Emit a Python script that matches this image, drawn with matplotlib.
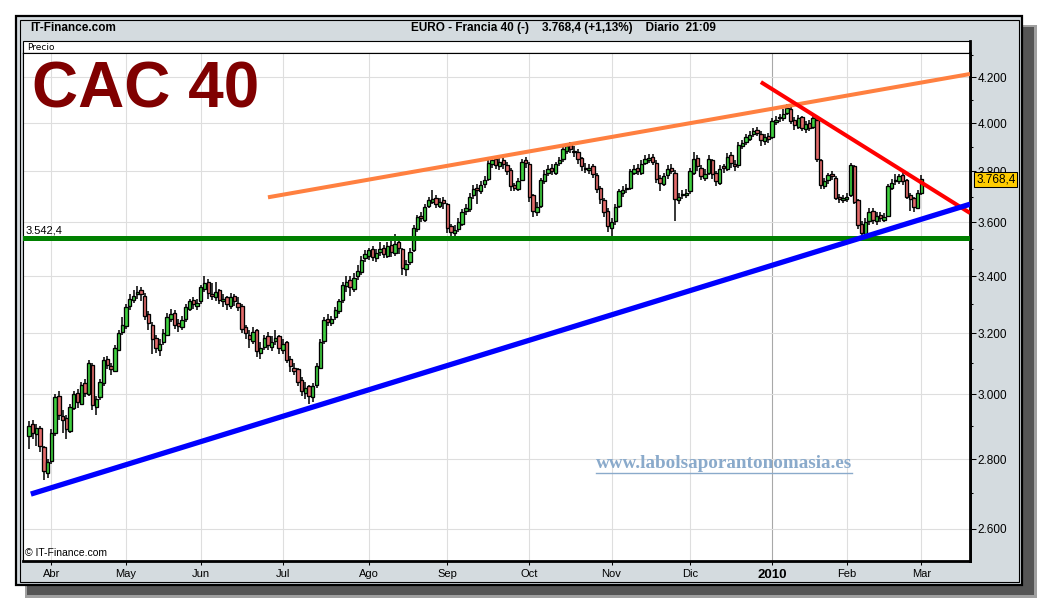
import matplotlib.pyplot as plt
import matplotlib.patches as mpatches
import matplotlib.lines as mlines
import matplotlib.transforms as mtransforms
from matplotlib.ticker import FixedLocator, FuncFormatter, NullFormatter
import numpy as np
import pandas as pd

plt.rcParams['font.family'] = ['Liberation Sans', 'DejaVu Sans']

# Calendario de negociacion (dias habiles sin festivos de Euronext)
start_date = '2009-03-24'
holidays = ['2009-04-10', '2009-04-13', '2009-05-01', '2009-12-25', '2010-01-01']
month_labels = ['Abr', 'May', 'Jun', 'Jul', 'Ago', 'Sep', 'Oct', 'Nov', 'Dic', '2010', 'Feb', 'Mar']

# Velas diarias CAC 40
opens = [
    2870, 2905, 2875, 2895, 2835, 2760, 2795, 2880, 2995, 2930,
    2925, 2885, 2955, 3005, 2970, 3035, 3000, 3095, 2960, 2990,
    3035, 3115, 3090, 3075, 3145, 3205, 3225, 3295, 3315, 3335,
    3350, 3330, 3265, 3230, 3185, 3145, 3170, 3195, 3250, 3270,
    3235, 3220, 3250, 3285, 3315, 3295, 3310, 3355, 3380, 3335,
    3325, 3350, 3310, 3325, 3295, 3330, 3305, 3295, 3220, 3195,
    3175, 3210, 3135, 3155, 3190, 3155, 3175, 3190, 3145, 3170,
    3115, 3085, 3080, 3045, 3005, 3025, 2990, 3030, 3085, 3175,
    3250, 3235, 3255, 3275, 3315, 3365, 3385, 3355, 3400, 3415,
    3465, 3475, 3500, 3465, 3490, 3505, 3475, 3515, 3485, 3525,
    3500, 3425, 3450, 3495, 3575, 3625, 3610, 3665, 3680, 3695,
    3665, 3685, 3670, 3585, 3560, 3575, 3595, 3645, 3650, 3705,
    3735, 3720, 3750, 3770, 3830, 3850, 3820, 3845, 3825, 3805,
    3745, 3730, 3765, 3845, 3830, 3705, 3640, 3665, 3760, 3795,
    3815, 3795, 3835, 3850, 3885, 3910, 3885, 3880, 3855, 3815,
    3805, 3820, 3785, 3735, 3685, 3645, 3580, 3605, 3665, 3715,
    3735, 3735, 3795, 3815, 3795, 3835, 3845, 3860, 3835, 3775,
    3750, 3785, 3815, 3795, 3685, 3705, 3705, 3720, 3795, 3855,
    3815, 3775, 3795, 3845, 3795, 3755, 3820, 3810, 3865, 3830,
    3825, 3905, 3920, 3935, 3955, 3970, 3955, 3925, 3945, 3940,
    4005, 4020, 4020, 4045, 4060, 4015, 3985, 4025, 3975, 4000,
    3985, 4015, 3845, 3740, 3765, 3790, 3775, 3700, 3685, 3690,
    3705, 3820, 3685, 3595, 3555, 3605, 3645, 3605, 3630, 3610,
    3625, 3735, 3760, 3760, 3785, 3765, 3705, 3695, 3655, 3715,
]
highs = [
    2915, 2920, 2905, 2900, 2840, 2800, 2890, 3000, 3010, 2950,
    2935, 2970, 3010, 3015, 3040, 3050, 3110, 3100, 2995, 3050,
    3120, 3125, 3100, 3160, 3210, 3255, 3300, 3335, 3350, 3365,
    3360, 3340, 3275, 3240, 3195, 3180, 3215, 3270, 3285, 3280,
    3250, 3260, 3300, 3320, 3325, 3320, 3370, 3400, 3390, 3375,
    3380, 3355, 3335, 3330, 3340, 3335, 3325, 3300, 3230, 3210,
    3220, 3215, 3170, 3195, 3205, 3190, 3210, 3195, 3180, 3175,
    3125, 3100, 3085, 3055, 3040, 3030, 3035, 3100, 3180, 3255,
    3265, 3260, 3290, 3320, 3380, 3400, 3400, 3410, 3440, 3475,
    3495, 3505, 3510, 3500, 3525, 3515, 3525, 3530, 3555, 3535,
    3505, 3460, 3505, 3590, 3630, 3640, 3670, 3700, 3725, 3705,
    3695, 3700, 3675, 3595, 3590, 3615, 3650, 3670, 3715, 3745,
    3750, 3760, 3780, 3850, 3860, 3860, 3855, 3860, 3840, 3815,
    3755, 3775, 3850, 3860, 3840, 3710, 3680, 3775, 3805, 3825,
    3830, 3840, 3860, 3905, 3915, 3920, 3905, 3890, 3860, 3835,
    3830, 3830, 3795, 3740, 3695, 3655, 3615, 3670, 3730, 3740,
    3750, 3810, 3825, 3830, 3845, 3865, 3870, 3870, 3845, 3785,
    3795, 3825, 3830, 3805, 3715, 3725, 3730, 3815, 3880, 3865,
    3825, 3810, 3865, 3850, 3800, 3825, 3830, 3875, 3880, 3845,
    3920, 3930, 3955, 3965, 3980, 3985, 3965, 3955, 3960, 4020,
    4030, 4040, 4060, 4080, 4070, 4025, 4035, 4030, 4010, 4015,
    4035, 4020, 3850, 3775, 3795, 3800, 3780, 3710, 3705, 3715,
    3835, 3825, 3690, 3605, 3615, 3655, 3655, 3640, 3640, 3635,
    3750, 3770, 3790, 3790, 3795, 3770, 3715, 3700, 3725, 3785,
]
lows = [
    2830, 2860, 2840, 2820, 2740, 2745, 2785, 2870, 2920, 2880,
    2860, 2880, 2950, 2955, 2965, 2990, 2995, 2950, 2935, 2980,
    3025, 3080, 3060, 3070, 3140, 3195, 3215, 3280, 3305, 3320,
    3310, 3245, 3210, 3130, 3135, 3125, 3160, 3190, 3240, 3215,
    3205, 3210, 3240, 3275, 3285, 3280, 3300, 3345, 3320, 3315,
    3310, 3300, 3290, 3280, 3285, 3295, 3275, 3200, 3180, 3150,
    3165, 3120, 3115, 3145, 3145, 3140, 3160, 3130, 3130, 3100,
    3070, 3060, 3025, 2995, 2985, 2970, 2975, 3020, 3080, 3165,
    3225, 3225, 3245, 3265, 3305, 3345, 3330, 3345, 3385, 3405,
    3450, 3460, 3455, 3450, 3475, 3465, 3465, 3470, 3475, 3480,
    3405, 3400, 3440, 3490, 3565, 3600, 3600, 3655, 3670, 3655,
    3655, 3650, 3560, 3545, 3545, 3565, 3585, 3630, 3640, 3690,
    3670, 3710, 3735, 3760, 3815, 3810, 3805, 3810, 3785, 3720,
    3720, 3720, 3760, 3815, 3680, 3620, 3625, 3655, 3750, 3780,
    3785, 3785, 3820, 3840, 3870, 3875, 3860, 3830, 3800, 3795,
    3790, 3775, 3715, 3670, 3620, 3565, 3545, 3590, 3655, 3700,
    3715, 3725, 3785, 3785, 3785, 3825, 3835, 3825, 3755, 3720,
    3740, 3770, 3790, 3605, 3670, 3690, 3695, 3710, 3785, 3800,
    3765, 3760, 3785, 3770, 3740, 3745, 3795, 3800, 3815, 3800,
    3815, 3890, 3910, 3925, 3940, 3945, 3905, 3910, 3915, 3935,
    3990, 4005, 4010, 4035, 3995, 3970, 3975, 3965, 3960, 3965,
    3975, 3840, 3730, 3730, 3750, 3765, 3685, 3675, 3675, 3680,
    3700, 3670, 3575, 3540, 3545, 3590, 3595, 3590, 3600, 3600,
    3620, 3725, 3745, 3750, 3745, 3690, 3645, 3640, 3650, 3705,
]
closes = [
    2900, 2880, 2895, 2840, 2765, 2790, 2880, 2990, 2935, 2920,
    2890, 2960, 3000, 2975, 3030, 3005, 3100, 2965, 2985, 3040,
    3110, 3095, 3080, 3150, 3200, 3230, 3290, 3320, 3330, 3345,
    3335, 3260, 3235, 3180, 3150, 3165, 3200, 3255, 3265, 3230,
    3225, 3245, 3290, 3310, 3300, 3305, 3360, 3375, 3340, 3330,
    3345, 3315, 3320, 3300, 3325, 3310, 3290, 3215, 3200, 3180,
    3205, 3140, 3150, 3185, 3160, 3170, 3185, 3150, 3165, 3110,
    3090, 3075, 3040, 3010, 3020, 2995, 3025, 3090, 3170, 3245,
    3240, 3250, 3280, 3310, 3370, 3380, 3360, 3395, 3420, 3460,
    3480, 3495, 3470, 3485, 3500, 3480, 3510, 3490, 3520, 3505,
    3430, 3445, 3490, 3580, 3620, 3615, 3660, 3685, 3690, 3670,
    3680, 3675, 3580, 3565, 3570, 3600, 3640, 3655, 3700, 3730,
    3725, 3745, 3765, 3835, 3845, 3825, 3840, 3830, 3800, 3740,
    3735, 3760, 3840, 3835, 3700, 3645, 3660, 3765, 3790, 3810,
    3800, 3830, 3845, 3890, 3905, 3890, 3880, 3850, 3820, 3810,
    3815, 3790, 3730, 3690, 3640, 3585, 3600, 3660, 3720, 3725,
    3730, 3800, 3810, 3800, 3830, 3850, 3855, 3840, 3770, 3755,
    3780, 3810, 3800, 3690, 3700, 3710, 3715, 3800, 3850, 3820,
    3780, 3790, 3850, 3790, 3760, 3810, 3815, 3860, 3835, 3820,
    3910, 3915, 3940, 3950, 3965, 3960, 3930, 3940, 3935, 4010,
    4015, 4025, 4040, 4065, 4010, 3990, 4020, 3980, 3995, 3980,
    4020, 3850, 3745, 3760, 3785, 3780, 3695, 3690, 3695, 3700,
    3825, 3680, 3590, 3560, 3600, 3640, 3610, 3625, 3615, 3620,
    3740, 3755, 3765, 3780, 3760, 3700, 3690, 3660, 3715, 3768.4,
]

support_level = 3542.4
last_price = 3768.4
# lineas de tendencia: extremos (indice de vela, precio)
resist_x, resist_y = [64, 252], [3697, 4214]
down_x, down_y = [196, 252], [4178, 3636]
up_x, up_y = [0.5, 252], [2698, 3670]

W, H = 1040, 600
fig = plt.figure(figsize=(W / 100, H / 100), dpi=100)


def frect(x0, y0, x1, y1, **kw):
    r = mpatches.Rectangle((x0 / W, 1 - y1 / H), (x1 - x0) / W, (y1 - y0) / H,
                           transform=fig.transFigure, **kw)
    fig.patches.append(r)
    return r


def fline(x0, y0, x1, y1, **kw):
    fig.lines.append(mlines.Line2D([x0 / W, x1 / W], [1 - y0 / H, 1 - y1 / H],
                                   transform=fig.transFigure, **kw))


# sombra y marco
frect(25, 25, 1037, 598, facecolor='#a0a0a0', edgecolor='none', zorder=-12)
frect(27, 27, 1034, 595, facecolor='#555555', edgecolor='none', zorder=-11)
frect(16, 16, 1022, 585, facecolor='#d4dbdf', edgecolor='black', linewidth=1.6, zorder=-10)
frect(19.5, 19.5, 1018.5, 581.5, facecolor='none', edgecolor='black', linewidth=0.8, zorder=-9)
frect(23, 41, 970, 561, facecolor='white', edgecolor='black', linewidth=0.8, zorder=-8)
fline(23, 53, 970, 53, color='black', linewidth=0.9, zorder=-7)
fline(970, 41, 970, 561, color='black', linewidth=2.0, zorder=-7)

ax = fig.add_axes([23 / W, 1 - 561 / H, 947 / W, 508 / H])
ax.set_facecolor('white')

n = len(closes)
x = np.arange(n)
o = np.array(opens, dtype=float)
c = np.array(closes, dtype=float)
colors = np.where(c >= o, '#3fcf3f', '#e36b6b')

ax.vlines(x, lows, highs, color='black', linewidth=1.1, zorder=3)
ax.bar(x, np.abs(c - o), bottom=np.minimum(o, c), width=0.9, color=colors,
       edgecolor='black', linewidth=0.95, zorder=4)

# lineas de soporte / resistencia
ax.axhline(support_level, color='#008000', linewidth=3.6, zorder=5)
ax.plot(resist_x, resist_y, color='#ff8040', linewidth=2.9, zorder=5, solid_capstyle='butt')
ax.plot(down_x, down_y, color='#ff0000', linewidth=2.9, zorder=5, solid_capstyle='butt')
ax.plot(up_x, up_y, color='#0000ff', linewidth=3.8, zorder=6, solid_capstyle='butt')

# eje y logaritmico a la derecha
ax.set_yscale('log')
ax.set_ylim(2513, 4309)
ax.set_xlim(-1.6, 252)
yticks = list(range(2600, 4201, 200))
ax.yaxis.set_major_locator(FixedLocator(yticks))
ax.yaxis.set_minor_locator(FixedLocator(list(range(2500, 4301, 100))))
ax.yaxis.set_major_formatter(FuncFormatter(lambda v, p: f'{v:,.0f}'.replace(',', '.')))
ax.yaxis.set_minor_formatter(NullFormatter())
ax.yaxis.tick_right()
ax.tick_params(axis='y', which='major', direction='out', length=4, width=0.75,
               pad=1.5, labelsize=8.5)
ax.tick_params(axis='y', which='minor', direction='out', length=2.5, width=0.75)

# eje x: primer dia de cada mes
dates = pd.bdate_range(start=start_date, periods=n, freq='C', holidays=holidays)
months = dates.to_period('M')
tick_pos = [i for i in range(1, n) if months[i] != months[i - 1]]
ax.set_xticks(tick_pos)
ax.set_xticklabels(month_labels[:len(tick_pos)])
ax.tick_params(axis='x', direction='out', length=3, width=0.75, pad=2.5, labelsize=8)
for lbl in ax.get_xticklabels():
    if lbl.get_text() == '2010':
        lbl.set_fontweight('bold')
        lbl.set_fontsize(9.5)

for p, lab in zip(tick_pos, month_labels):
    ax.axvline(p, color='#a8a8a8' if lab == '2010' else '#dedede', linewidth=0.8, zorder=1)
for v in yticks:
    ax.axhline(v, color='#dedede', linewidth=0.8, zorder=1)

for side in ['left', 'top']:
    ax.spines[side].set_linewidth(0.8)
for side in ['bottom', 'right']:
    ax.spines[side].set_linewidth(2.0)

blend = mtransforms.blended_transform_factory(ax.transAxes, ax.transData)
ax.text(0.003, support_level * 1.002, '3.542,4', transform=blend, va='bottom',
        ha='left', fontsize=8, zorder=7)
ax.text(1.0065, last_price, '3.768,4', transform=blend, va='center', ha='left',
        fontsize=8.5, clip_on=False, zorder=10,
        bbox=dict(boxstyle='square,pad=0.15', facecolor='#ffcc00', edgecolor='black',
                  linewidth=0.75))

# textos
fig.text(30 / W, 1 - 28 / H, 'IT-Finance.com', fontsize=8.5, fontweight='bold', va='center')
fig.text(411 / W, 1 - 28 / H, 'EURO - Francia 40 (-)    3.768,4 (+1,13%)    Diario  21:09',
         fontsize=8.5, fontweight='bold', va='center')
fig.text(27 / W, 1 - 47 / H, 'Precio', fontsize=6.5, va='center', family='DejaVu Sans')
fig.text(32 / W, 1 - 107 / H, 'CAC 40', fontsize=46, fontweight='bold', color='#800000',
         va='baseline')
fig.text(25 / W, 1 - 553 / H, '© IT-Finance.com', fontsize=7.5, va='center')
wm = fig.text(596 / W, 1 - 463 / H, 'www.labolsaporantonomasia.es', fontsize=13.8,
              fontweight='bold', family='Liberation Serif', color='#8aaacb', va='center')

fig.canvas.draw()
bb = wm.get_window_extent()
fig.lines.append(mlines.Line2D([bb.x0 / W, bb.x1 / W], [(bb.y0 - 1) / H, (bb.y0 - 1) / H],
                               transform=fig.transFigure, color='#8aaacb', linewidth=1.0))

fig.savefig('out.png', dpi=100)
